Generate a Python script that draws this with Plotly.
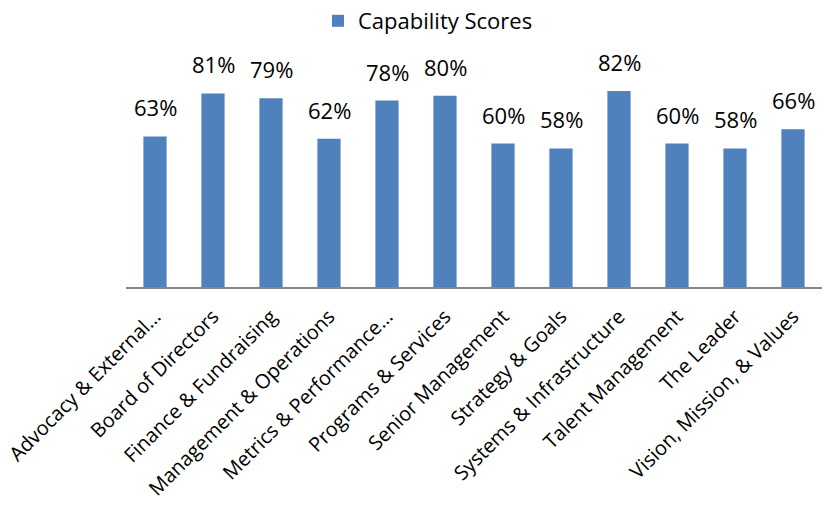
import plotly.graph_objects as go

categories = [
    "Advocacy & External…", "Board of Directors", "Finance & Fundraising",
    "Management & Operations", "Metrics & Performance…", "Programs & Services",
    "Senior Management", "Strategy & Goals", "Systems & Infrastructure",
    "Talent Management", "The Leader", "Vision, Mission, & Values",
]
scores = [0.63, 0.81, 0.79, 0.62, 0.78, 0.80, 0.60, 0.58, 0.82, 0.60, 0.58, 0.66]
series_name = "Capability Scores"

FONT = "Open Sans"
fig = go.Figure()
fig.add_trace(go.Bar(
    x=categories, y=scores, name=series_name,
    marker=dict(color="#4F81BD", line=dict(width=0)),
    width=0.4, showlegend=True,
))
for c, v in zip(categories, scores):
    fig.add_annotation(
        x=c, y=v, text=f"{round(v*100)}%", showarrow=False,
        yanchor="bottom", yshift=12,
        font=dict(family=FONT, size=22, color="#000000"),
    )

fig.update_layout(
    width=830, height=513,
    margin=dict(l=126, r=8, t=48, b=226),
    paper_bgcolor="white", plot_bgcolor="white",
    showlegend=True,
    legend=dict(orientation="h", x=318 / 830, xanchor="left", xref="container",
                y=1.0, yanchor="top", yref="container",
                font=dict(family=FONT, size=22, color="#000000"),
                itemwidth=30),
    xaxis=dict(
        tickangle=-45, showgrid=False, ticks="", automargin=False,
        showline=True, linecolor="#868686", linewidth=2,
        ticklabelstandoff=8,
        tickfont=dict(family=FONT, size=20, color="#000000"),
    ),
    yaxis=dict(range=[0, 1], visible=False, showgrid=False, zeroline=False),
)
fig.write_html("out.html")
